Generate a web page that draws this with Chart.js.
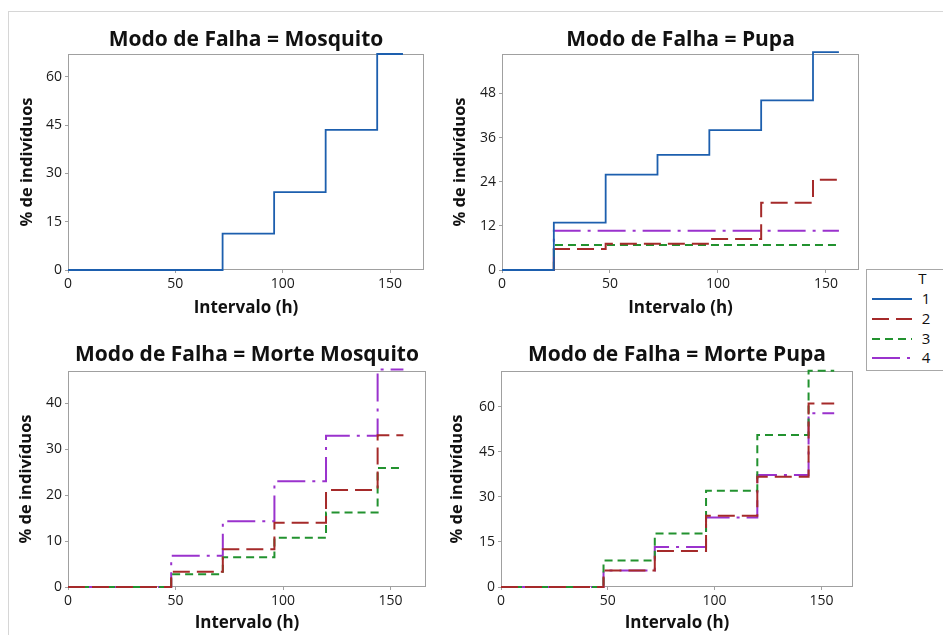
<!DOCTYPE html>
<html><head><meta charset="utf-8">
<script src="https://cdn.jsdelivr.net/npm/chart.js@4.4.1/dist/chart.umd.min.js"></script>
<style>
html,body{margin:0;padding:0;background:#fff;}
#wrap{position:relative;width:943px;height:635px;overflow:hidden;background:#fff;font-family:"Open Sans",sans-serif;}
#frame{position:absolute;left:8px;top:11px;width:1000px;height:700px;border-left:1px solid #d6d6d6;border-top:1px solid #d6d6d6;}
canvas{position:absolute;}
#legend{position:absolute;left:866px;top:269px;width:120px;height:100px;border:1px solid #a8a8a8;background:#fff;}
</style></head><body>
<div id="wrap">
<div id="frame"></div>
<canvas id="c1"></canvas>
<canvas id="c2"></canvas>
<canvas id="c3"></canvas>
<canvas id="c4"></canvas>
<div id="legend"><svg id="lg" width="120" height="100"></svg></div>
</div>
<script>
// ---------- data ----------
const hours = [0, 24, 48, 72, 96, 120, 144, 156];
const seriesNames = ['1', '2', '3', '4'];
const xTickValues = [0, 50, 100, 150];

const mosquitoT1 = [0, 0, 0, 11.3, 24.2, 43.5, 67.1, 67.1];

const pupaT1 = [0, 12.9, 25.9, 31.3, 38.0, 46.1, 59.2, 59.2];
const pupaT2 = [0, 5.7, 7.1, 7.1, 8.4, 18.3, 24.5, 24.5];
const pupaT3 = [0, 6.8, 6.8, 6.8, 6.8, 6.8, 6.8, 6.8];
const pupaT4 = [0, 10.7, 10.7, 10.7, 10.7, 10.7, 10.7, 10.7];

const morteMosqT2 = [0, 0, 3.3, 8.2, 14.0, 21.1, 33.0, 33.0];
const morteMosqT3 = [0, 0, 2.8, 6.5, 10.7, 16.2, 25.9, 25.9];
const morteMosqT4 = [0, 0, 6.8, 14.3, 23.0, 32.9, 47.3, 47.3];

const mortePupaT2 = [0, 0, 5.5, 12.0, 23.7, 36.7, 61.1, 61.1];
const mortePupaT3 = [0, 0, 8.8, 17.8, 32.0, 50.6, 72.0, 72.0];
const mortePupaT4 = [0, 0, 5.5, 13.3, 23.1, 37.3, 57.8, 57.8];

const yTicksMosquito = [0, 15, 30, 45, 60];
const yTicksPupa = [0, 12, 24, 36, 48];
const yTicksMorteMosq = [0, 10, 20, 30, 40];
const yTicksMortePupa = [0, 15, 30, 45, 60];

// ---------- styles ----------
const FONT = '"Open Sans", sans-serif';
const AXC = '#a0a0a0';
const STY = {
  '1': {color: '#1d5fae', dash: [], width: 1.8},
  '2': {color: '#a52a2a', dash: [17, 7], width: 2},
  '3': {color: '#22922f', dash: [8, 5], width: 2},
  '4': {color: '#9a32cd', dash: [28, 7, 3, 7], width: 2}
};

function ds(name, vals) {
  const s = STY[name];
  return {
    label: name,
    data: hours.map((h, i) => ({x: h, y: vals[i]})),
    borderColor: s.color, borderDash: s.dash, borderWidth: s.width,
    stepped: true, pointRadius: 0, fill: false, clip: false, tension: 0
  };
}

const framePlugin = {
  id: 'frame',
  beforeDatasetsDraw(chart) {
    const {ctx, chartArea: a} = chart;
    ctx.save();
    ctx.strokeStyle = AXC; ctx.lineWidth = 1;
    ctx.strokeRect(Math.round(a.left) + 0.5, Math.round(a.top) + 0.5,
      Math.round(a.right - a.left) - 1, Math.round(a.bottom - a.top) - 1);
    ctx.restore();
  }
};

function panel(cfg) {
  const cv = document.getElementById(cfg.id);
  cv.width = cfg.w; cv.height = cfg.h;
  cv.style.left = cfg.left + 'px'; cv.style.top = cfg.top + 'px';
  new Chart(cv, {
    type: 'line',
    data: {datasets: cfg.datasets},
    options: {
      responsive: false, animation: false, devicePixelRatio: 1,
      layout: {padding: {left: 0, right: 2, top: 0, bottom: 0}},
      plugins: {
        legend: {display: false}, tooltip: {enabled: false},
        title: {display: true, text: cfg.title, fullSize: false, color: '#111',
          font: {family: FONT, size: 21, weight: 'bold', lineHeight: 1.2},
          padding: cfg.titlePad}
      },
      scales: {
        x: {
          type: 'linear', min: 0, max: cfg.xMax,
          afterBuildTicks: s => { s.ticks = xTickValues.map(v => ({value: v})); },
          afterFit: s => { s.height = cfg.xh; },
          grid: {drawOnChartArea: false, drawTicks: true, tickLength: 3, color: AXC},
          border: {display: false},
          ticks: {padding: 3, color: '#1a1a1a', maxRotation: 0, autoSkip: false,
            font: {family: FONT, size: 14}},
          title: {display: true, text: 'Intervalo (h)', color: '#111',
            font: {family: FONT, size: 17, weight: 'bold', lineHeight: 1.2},
            padding: {top: 0, bottom: cfg.xtPad}}
        },
        y: {
          type: 'linear', min: 0, max: cfg.yMax,
          afterBuildTicks: s => { s.ticks = cfg.yTicks.map(v => ({value: v})); },
          afterFit: s => { s.width = 60; },
          grid: {drawOnChartArea: false, drawTicks: true, tickLength: 3, color: AXC},
          border: {display: false},
          ticks: {padding: 3, color: '#1a1a1a', autoSkip: false,
            font: {family: FONT, size: 14}},
          title: {display: true, text: '% de indivíduos', color: '#111',
            font: {family: FONT, size: 16.5, weight: 'bold', lineHeight: 1.2},
            padding: {top: cfg.ytPad, bottom: 0}}
        }
      }
    },
    plugins: [framePlugin]
  });
}

panel({id: 'c1', left: 8, top: 14, w: 418, h: 306, xh: 50, xtPad: 1.5,
  title: 'Modo de Falha = Mosquito', titlePad: {top: 13.5, bottom: 1.3}, ytPad: 9,
  xMax: 165.8, yMax: 67.1, yTicks: yTicksMosquito,
  datasets: [ds('1', mosquitoT1)]});

panel({id: 'c2', left: 442, top: 14, w: 419, h: 306, xh: 50, xtPad: 1.5,
  title: 'Modo de Falha = Pupa', titlePad: {top: 13.5, bottom: 1.3}, ytPad: 8.5,
  xMax: 165.3, yMax: 58.7, yTicks: yTicksPupa,
  datasets: [ds('1', pupaT1), ds('2', pupaT2), ds('3', pupaT3), ds('4', pupaT4)]});

panel({id: 'c3', left: 8, top: 331, w: 420, h: 304, xh: 48, xtPad: 2,
  title: 'Modo de Falha = Morte Mosquito', titlePad: {top: 11, bottom: 3.8}, ytPad: 8,
  xMax: 166.5, yMax: 47.0, yTicks: yTicksMorteMosq,
  datasets: [ds('2', morteMosqT2), ds('3', morteMosqT3), ds('4', morteMosqT4)]});

panel({id: 'c4', left: 441, top: 331, w: 414, h: 304, xh: 48, xtPad: 2,
  title: 'Modo de Falha = Morte Pupa', titlePad: {top: 11, bottom: 3.8}, ytPad: 6.5,
  xMax: 164.8, yMax: 71.9, yTicks: yTicksMortePupa,
  datasets: [ds('2', mortePupaT2), ds('3', mortePupaT3), ds('4', mortePupaT4)]});

// ---------- shared legend ----------
(function () {
  const svg = document.getElementById('lg');
  const NS = 'http://www.w3.org/2000/svg';
  const t = document.createElementNS(NS, 'text');
  t.setAttribute('x', 55.5); t.setAttribute('y', 14);
  t.setAttribute('text-anchor', 'middle');
  t.setAttribute('style', 'font-family:' + FONT + ';font-size:15px;fill:#111');
  t.textContent = 'T';
  svg.appendChild(t);
  const rowY = [29, 49, 69, 88];
  seriesNames.forEach((n, i) => {
    const s = STY[n];
    const l = document.createElementNS(NS, 'line');
    l.setAttribute('x1', 5); l.setAttribute('x2', 45);
    l.setAttribute('y1', rowY[i]); l.setAttribute('y2', rowY[i]);
    l.setAttribute('stroke', s.color); l.setAttribute('stroke-width', s.width);
    if (s.dash.length) l.setAttribute('stroke-dasharray', s.dash.join(' '));
    svg.appendChild(l);
    const tx = document.createElementNS(NS, 'text');
    tx.setAttribute('x', 59); tx.setAttribute('y', rowY[i] + 5);
    tx.setAttribute('text-anchor', 'middle');
    tx.setAttribute('style', 'font-family:' + FONT + ';font-size:15px;fill:#111');
    tx.textContent = n;
    svg.appendChild(tx);
  });
})();
</script>
</body></html>
